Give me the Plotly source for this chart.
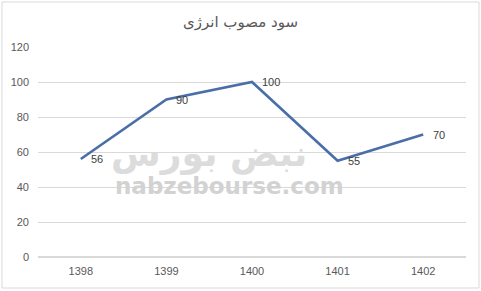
import plotly.graph_objects as go

years = ["1398", "1399", "1400", "1401", "1402"]
profit = [56, 90, 100, 55, 70]
y_ticks = [0, 20, 40, 60, 80, 100, 120]
title_text = "سود مصوب انرژی"

fig = go.Figure()
fig.add_trace(go.Scatter(
    x=years, y=profit, mode="lines",
    line=dict(color="#4a6ea8", width=2.6),
    showlegend=False,
))
for i, v in enumerate(profit):
    fig.add_annotation(x=i, y=v, text=str(v), showarrow=False, xanchor="left",
                       yanchor="middle", xshift=8,
                       font=dict(family="Liberation Sans", size=11, color="#404040"))

# watermark
fig.add_annotation(x=0.447, y=0.265, xref="paper", yref="paper", text="<b>nabzebourse.com</b>",
                   showarrow=False, font=dict(family="DejaVu Sans", size=23, color="#d2d2d2"))
fig.add_annotation(x=0.40, y=0.49, xref="paper", yref="paper", text="<b>نبض بورس</b>",
                   showarrow=False, font=dict(family="DejaVu Sans", size=36, color="#dcdcdc"))

fig.add_shape(type="rect", xref="paper", yref="paper",
              x0=(2 - 38) / 428, x1=(479 - 38) / 428,
              y0=(257 - 288) / 210, y1=(257 - 2) / 210,
              line=dict(color="#d9d9d9", width=1), layer="below")

fig.update_layout(
    width=481, height=291,
    margin=dict(l=38, r=15, t=47, b=34),
    paper_bgcolor="white", plot_bgcolor="white",
    title=dict(text=title_text, x=0.5, xanchor="center", y=0.925, yanchor="middle",
               font=dict(family="DejaVu Sans", size=15, color="#595959")),
    xaxis=dict(type="category", range=[-0.5, 4.5], showgrid=False, zeroline=False, showline=False,
               tickfont=dict(family="Liberation Sans", size=11, color="#595959"),
               ticks="", ticklabelstandoff=6),
    yaxis=dict(range=[0, 120], tickvals=y_ticks, showgrid=True, gridcolor="#d9d9d9",
               gridwidth=1, zeroline=True, zerolinecolor="#d9d9d9", showline=False,
               tickfont=dict(family="Liberation Sans", size=11, color="#595959"),
               ticks="", ticklabelstandoff=8),
)
fig.write_html("out.html")
